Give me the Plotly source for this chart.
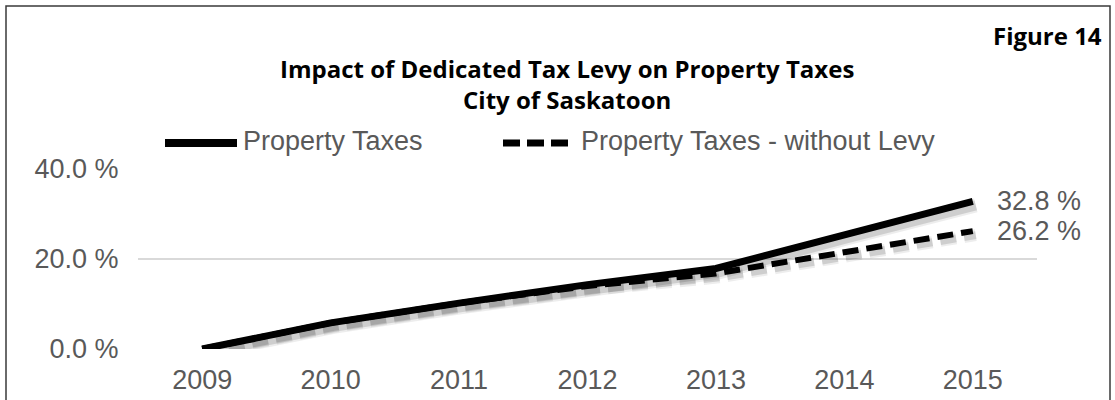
import plotly.graph_objects as go

# ---- data ----
years = ["2009", "2010", "2011", "2012", "2013", "2014", "2015"]
property_taxes = [0.0, 5.8, 10.2, 14.3, 17.9, 25.5, 32.8]
property_taxes_no_levy = [0.0, 5.8, 10.2, 14.0, 16.8, 21.6, 26.2]
series_names = ["Property Taxes", "Property Taxes - without Levy"]
title_lines = ["Impact of Dedicated Tax Levy on Property Taxes", "City of Saskatoon"]
figure_label = "Figure 14"
y_ticks = [0, 20, 40]
y_tick_labels = [f"{v:.1f}\u00a0%" for v in y_ticks]

W, H = 1115, 400
ML, MR, MT, MB = 138, 78, 169, 51
PW, PH = W - ML - MR, H - MT - MB

def px(x):
    return (x - ML) / PW

def py(y):
    return (H - MB - y) / PH

GREY = "#595959"
TICKFONT = dict(family="Liberation Sans, Arial, sans-serif", size=27, color=GREY)
TITLEFONT = "Open Sans, Lato, sans-serif"

fig = go.Figure()

# soft drop shadow (same data drawn on slightly offset overlay axes)
for w, op in [(14, 0.07), (10, 0.13)]:
    fig.add_trace(go.Scatter(x=years, y=property_taxes, mode="lines",
                             line=dict(color=f"rgba(0,0,0,{op})", width=w),
                             xaxis="x2", yaxis="y2", showlegend=False,
                             hoverinfo="skip", cliponaxis=False))
    fig.add_trace(go.Scatter(x=years, y=property_taxes_no_levy, mode="lines",
                             line=dict(color=f"rgba(0,0,0,{op})", width=w - 2, dash="16px,8px"),
                             xaxis="x2", yaxis="y2", showlegend=False,
                             hoverinfo="skip", cliponaxis=False))

fig.add_trace(go.Scatter(x=years, y=property_taxes_no_levy, mode="lines",
                         name=series_names[1],
                         line=dict(color="black", width=6, dash="16px,8px"),
                         showlegend=False, cliponaxis=False))
fig.add_trace(go.Scatter(x=years, y=property_taxes, mode="lines",
                         name=series_names[0],
                         line=dict(color="black", width=7),
                         showlegend=False, cliponaxis=False))

# end-value labels (anchored on the last category index)
last_idx = len(years) - 1
for vals in (property_taxes, property_taxes_no_levy):
    fig.add_annotation(x=last_idx, y=vals[-1], text=f"{vals[-1]:.1f}\u00a0%",
                       xanchor="left", yanchor="middle", xshift=22, showarrow=False,
                       font=TICKFONT)

# title
fig.add_annotation(xref="paper", yref="paper", x=px(567), y=py(84.5),
                   text=f"<b>{title_lines[0]}</b><br><b>{title_lines[1]}</b>",
                   showarrow=False, xanchor="center", yanchor="middle", align="center",
                   font=dict(family=TITLEFONT, size=24, color="black"))
fig.add_annotation(xref="paper", yref="paper", x=px(1104), y=py(35),
                   text=f"<b>{figure_label}</b>", showarrow=False,
                   xanchor="right", yanchor="middle",
                   font=dict(family=TITLEFONT, size=24, color="black"))

# manual legend
fig.add_shape(type="line", xref="paper", yref="paper",
              x0=px(165), x1=px(237), y0=py(143), y1=py(143),
              line=dict(color="black", width=8))
fig.add_shape(type="line", xref="paper", yref="paper",
              x0=px(503), x1=px(571), y0=py(143), y1=py(143),
              line=dict(color="black", width=7, dash="17px,7px"))
fig.add_annotation(xref="paper", yref="paper", x=px(241), y=py(141),
                   text=series_names[0], showarrow=False,
                   xanchor="left", yanchor="middle", font=TICKFONT)
fig.add_annotation(xref="paper", yref="paper", x=px(579), y=py(141),
                   text=series_names[1], showarrow=False,
                   xanchor="left", yanchor="middle", font=TICKFONT)

# outer border
fig.add_shape(type="rect", xref="paper", yref="paper",
              x0=px(6), x1=px(1110), y0=py(410), y1=py(6),
              line=dict(color="#3a3a3a", width=1.5))

dx = 3 / (PW / 7)
dy = 4 / (PH / 40)
fig.update_layout(
    width=W, height=H,
    margin=dict(l=ML, r=MR, t=MT, b=MB),
    paper_bgcolor="white", plot_bgcolor="white",
    showlegend=False,
    xaxis=dict(type="category", range=[-0.5, 6.5], showgrid=False, zeroline=False,
               showline=False, ticks="outside", ticklen=7, tickcolor="rgba(0,0,0,0)",
               tickfont=TICKFONT, automargin=False),
    yaxis=dict(range=[0, 40], tickvals=y_ticks, ticktext=y_tick_labels,
               showgrid=True, gridcolor="#d9d9d9", gridwidth=1.5, zeroline=False,
               showline=False, ticks="outside", ticklen=13, tickcolor="rgba(0,0,0,0)",
               tickfont=TICKFONT, automargin=False),
    xaxis2=dict(type="category", overlaying="x", range=[-0.5 - dx, 6.5 - dx], visible=False),
    yaxis2=dict(overlaying="y", range=[dy, 40 + dy], visible=False),
)

fig.write_html("out.html", config={"displayModeBar": False},
               post_script="document.body.style.margin='0';")
